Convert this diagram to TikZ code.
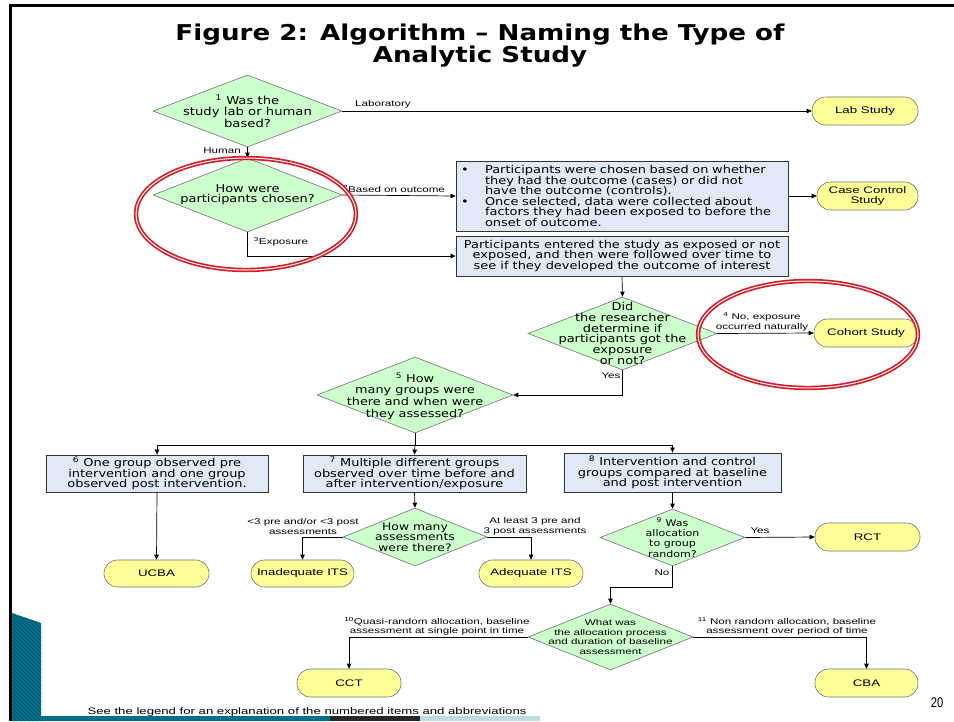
\documentclass[tikz,border=0pt]{standalone}
\usepackage{fontspec}
\usetikzlibrary{arrows.meta,shapes.geometric}
\newfontfamily\vf[FakeStretch=1.2]{DejaVu Sans}
\newfontfamily\af[FakeStretch=1.4]{Liberation Sans}
\newfontfamily\nf[FakeStretch=0.8]{Liberation Sans}
\definecolor{dgreen}{RGB}{204,255,204}
\definecolor{lblue}{RGB}{226,233,246}
\definecolor{lyel}{RGB}{255,255,153}
\definecolor{redc}{RGB}{214,28,36}
\definecolor{tealc}{RGB}{0,112,138}
\definecolor{tealk}{RGB}{0,80,100}
\newcommand\bxfont{\vf\fontsize{10.8}{10.6}\selectfont}
\newcommand\lbfont{\af\fontsize{8.3}{9.6}\selectfont}
\newcommand\stfont{\af\fontsize{9.5}{10}\selectfont}
\begin{document}
\begin{tikzpicture}[x=1pt,y=-1pt,
  dia/.style={diamond, draw=black!55, fill=dgreen, inner sep=0pt, line width=0.6pt},
  dtxt/.style={align=center, inner sep=0pt},
  bx/.style={rectangle, draw=black!80, fill=lblue, line width=0.8pt, inner sep=0pt, font=\bxfont, align=center},
  stad/.style={rectangle, rounded corners=13.5pt, draw=black!55, fill=lyel, line width=0.6pt, inner sep=0pt, font=\stfont, align=center},
  arr/.style={-{Triangle[length=5pt,width=4.5pt]}, line width=0.7pt},
  ln/.style={line width=0.7pt},
  lbl/.style={font=\lbfont, align=center, inner sep=0pt}]
\useasboundingbox (0,0) rectangle (954,721);
\fill[white] (0,0) rectangle (954,721);
% slide frame and decoration
\fill[black] (8.5,4) rectangle (12,721);
\fill[black] (8.5,4) rectangle (954,6.5);
\fill[tealc] (12,613) -- (41,623) -- (41,721) -- (12,721) -- cycle;
\begin{scope}
\clip (12,613) -- (41,623) -- (41,721) -- (12,721) -- cycle;
\foreach \k in {0,4,...,140} {\draw[tealk, line width=0.6pt] (12,600+\k) -- (42,630+\k);}
\end{scope}
\fill[tealc] (41,716) rectangle (330,721);
\fill[black!85] (330,716) rectangle (420,721);
\fill[tealc!25] (420,716) rectangle (540,721);
% title
\node[font=\vf\bfseries\fontsize{21.8}{21}\selectfont, align=center, inner sep=0pt] (title) at (480,45.5) {Figure 2: Algorithm – Naming the Type of\\Analytic Study};
% diamonds
\node[dia, minimum width=189pt, minimum height=72pt] (d1) at (247.5,111) {};
\node[dtxt, font=\vf\fontsize{11}{11.5}\selectfont] (d1t) at (d1) {\textsuperscript{1} Was the\\study lab or human\\based?};
\node[dia, minimum width=189pt, minimum height=74pt] (d2) at (247.5,195) {};
\node[dtxt, font=\vf\fontsize{10.8}{10.2}\selectfont] (d2t) at (d2) {How were\\participants chosen?};
\node[dia, minimum width=189pt, minimum height=73pt] (d3) at (622.5,333.5) {};
\node[dtxt, font=\vf\fontsize{10.8}{10.8}\selectfont] (d3t) at (d3) {Did\\the researcher\\determine if\\participants got the\\exposure\\or not?};
\node[dia, minimum width=196pt, minimum height=76pt] (d4) at (415,395) {};
\node[dtxt, font=\vf\fontsize{10.7}{11.7}\selectfont] (d4t) at (415,396) {\textsuperscript{5} How\\many groups were\\there and when were\\they assessed?};
\node[dia, minimum width=144pt, minimum height=58pt] (d5) at (415,537) {};
\node[dtxt, font=\vf\fontsize{10.3}{10.5}\selectfont] (d5t) at (d5) {How many\\assessments\\were there?};
\node[dia, minimum width=145pt, minimum height=57pt] (d6) at (672.5,537.5) {};
\node[dtxt, font=\vf\fontsize{9.2}{10.3}\selectfont] (d6t) at (d6) {\textsuperscript{9} Was\\allocation\\to group\\random?};
\node[dia, minimum width=165pt, minimum height=66pt] (d7) at (610.5,637) {};
\node[dtxt, font=\af\fontsize{8.3}{9.7}\selectfont] (d7t) at (d7) {What was\\the allocation process\\and duration of baseline\\assessment};
% boxes
\node[bx, minimum width=332pt, minimum height=70pt, text width=322pt, align=left] (b1) at (622,196) {%
\mbox{\makebox[24pt][l]{\textbullet}Participants were chosen based on whether}\\
\mbox{\hspace*{24pt}they had the outcome (cases) or did not}\\
\mbox{\hspace*{24pt}have the outcome (controls).}\\
\mbox{\makebox[24pt][l]{\textbullet}Once selected, data were collected about}\\
\mbox{\hspace*{24pt}factors they had been exposed to before the}\\
\mbox{\hspace*{24pt}onset of outcome.}};
\node[bx, minimum width=332pt, minimum height=40pt] (b2) at (622,256) {Participants entered the study as exposed or not\\exposed, and then were followed over time to\\see if they developed the outcome of interest};
\node[bx, minimum width=222pt, minimum height=37pt] (b6) at (157,473.5) {\textsuperscript{6} One group observed pre\\intervention and one group\\observed post intervention.};
\node[bx, minimum width=223pt, minimum height=37pt] (b7) at (414.5,473.5) {\textsuperscript{7} Multiple different groups\\observed over time before and\\after intervention/exposure};
\node[bx, minimum width=217pt, minimum height=39pt] (b8) at (672.5,472.5) {\textsuperscript{8} Intervention and control\\groups compared at baseline\\and post intervention};
% terminals
\node[stad, minimum width=106pt, minimum height=28pt] (lab) at (865,111) {Lab Study};
\node[stad, minimum width=101pt, minimum height=28pt] (ccs) at (867.5,196) {Case Control\\Study};
\node[stad, minimum width=104pt, minimum height=28pt] (coh) at (866,333) {Cohort Study};
\node[stad, minimum width=105pt, minimum height=27pt] (ucba) at (156.5,573.5) {UCBA};
\node[stad, minimum width=103pt, minimum height=27pt] (its) at (302.5,573.5) {Inadequate ITS};
\node[stad, minimum width=104pt, minimum height=27pt] (aits) at (531,573.5) {Adequate ITS};
\node[stad, minimum width=105pt, minimum height=28pt] (rct) at (867.5,537) {RCT};
\node[stad, minimum width=104pt, minimum height=28pt] (cct) at (349,683) {CCT};
\node[stad, minimum width=103pt, minimum height=28pt] (cba) at (866.5,683) {CBA};
% helper coordinates
\coordinate (bus) at (415,445);
\coordinate (nk) at (610.5,587);
% connectors
\draw[arr] (d1.east) -- (lab.west);
\draw[arr] (d1.south) -- (d2.north);
\draw[arr] (d2.east) -- (b1.west);
\draw[arr] (d2.south) |- (b2.west);
\draw[arr] (b1.east) -- (ccs.west);
\draw[arr] (b2.south) -- (d3.north);
\draw[arr] (d3.east) -- (coh.west);
\draw[arr] (d3.south) |- (d4.east);
\draw[ln] (d4.south) -- (bus);
\draw[arr] (bus) -- (b7.north);
\draw[arr] (bus) -| (b6.north);
\draw[arr] (bus) -| (b8.north);
\draw[arr] (b6.south) -- (ucba.north);
\draw[arr] (b7.south) -- (d5.north);
\draw[arr] (d5.west) -| (its.north);
\draw[arr] (d5.east) -| (aits.north);
\draw[arr] (b8.south) -- (d6.north);
\draw[arr] (d6.east) -- (rct.west);
\draw[arr] (d6.south) |- (nk) -- (d7.north);
\draw[arr] (d7.west) -| (cct.north);
\draw[arr] (d7.east) -| (cba.north);
% labels
\node[lbl] (llab) at (383,104) {Laboratory};
\node[lbl] (lhum) at (222,151) {Human};
\node[lbl] (lbo) at (394,189) {\textsuperscript{2}Based on outcome};
\node[lbl] (lexp) at (281,242) {\textsuperscript{3}Exposure};
\node[lbl] (lno) at (762,322) {\textsuperscript{4} No, exposure\\occurred naturally};
\node[lbl] (lyes1) at (611,376) {Yes};
\node[lbl] (llt) at (303,526.5) {<3 pre and/or <3 post\\assessments};
\node[lbl] (lal) at (535,526.5) {At least 3 pre and\\3 post assessments};
\node[lbl] (lyes2) at (760,531) {Yes};
\node[lbl] (lno2) at (662,573) {No};
\node[lbl] (lqr) at (437,626.5) {\textsuperscript{10}Quasi-random allocation, baseline\\assessment at single point in time};
\node[lbl] (lnr) at (787,626.5) {\textsuperscript{11} Non random allocation, baseline\\assessment over period of time};
\node[lbl, font=\af\fontsize{9.4}{10}\selectfont] (foot) at (307,712) {See the legend for an explanation of the numbered items and abbreviations};
\node[inner sep=0pt, font=\nf\fontsize{14}{14}\selectfont] (pg) at (937,703) {20};
% red highlight ellipses
\draw[redc, line width=4.4pt] (246,214) ellipse [x radius=110, y radius=56];
\draw[white, line width=1pt] (246,214) ellipse [x radius=110, y radius=56];
\draw[redc, line width=4.4pt] (808,334.5) ellipse [x radius=110, y radius=53.5];
\draw[white, line width=1pt] (808,334.5) ellipse [x radius=110, y radius=53.5];
\end{tikzpicture}
\end{document}
